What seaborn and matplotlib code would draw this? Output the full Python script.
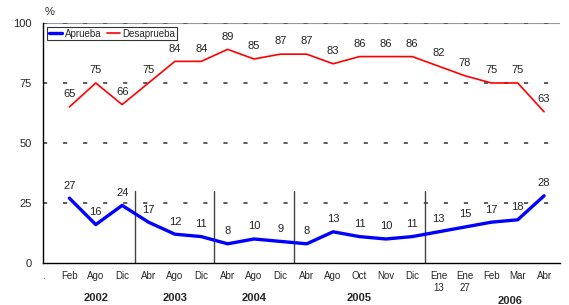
import matplotlib
matplotlib.use("Agg")
import matplotlib.pyplot as plt
import seaborn as sns
import pandas as pd
import numpy as np
from matplotlib.lines import Line2D

months = ["Feb", "Ago", "Dic", "Abr", "Ago", "Dic", "Abr", "Ago", "Dic",
          "Abr", "Ago", "Oct", "Nov", "Dic", "Ene\n13", "Ene\n27", "Feb", "Mar", "Abr"]
aprueba = [27, 16, 24, 17, 12, 11, 8, 10, 9, 8, 13, 11, 10, 11, 13, 15, 17, 18, 28]
desaprueba = [65, 75, 66, 75, 84, 84, 89, 85, 87, 87, 83, 86, 86, 86, 82, 78, 75, 75, 63]
years = ["2002", "2003", "2004", "2005", "2006"]
year_groups = [3, 3, 3, 5, 5]  # months per year

sns.set_theme(style="white")
plt.rcParams['font.family'] = ['Liberation Sans', 'DejaVu Sans']

pos = np.arange(1, len(months) + 1)
df = pd.DataFrame({
    "pos": np.concatenate([pos, pos]),
    "valor": aprueba + desaprueba,
    "serie": ["Aprueba"] * len(pos) + ["Desaprueba"] * len(pos),
})

fig = plt.figure(figsize=(5.69, 3.05), dpi=100)
ax = fig.add_axes([0.0756, 0.1377, 0.9084, 0.787])

ax.axhline(100, color="#999999", lw=0.8, zorder=1)
for y in [25, 50, 75, 100]:
    ax.axhline(y, color="#505050", lw=1.3, ls=(0, (2.3, 8.8)), zorder=1)

sns.lineplot(data=df[df.serie == "Desaprueba"], x="pos", y="valor", color="#ff0000",
             lw=1.2, ax=ax, legend=False, zorder=3)
sns.lineplot(data=df[df.serie == "Aprueba"], x="pos", y="valor", color="#0000ff",
             lw=2.4, ax=ax, legend=False, zorder=3)

for x, v in zip(pos, desaprueba):
    ax.text(x, v + 3.2, str(v), ha="center", va="bottom", fontsize=8, color="#222222")
for x, v in zip(pos, aprueba):
    ax.text(x, v + 3.2, str(v), ha="center", va="bottom", fontsize=8, color="#222222")

# year separators
bounds = np.cumsum(year_groups)[:-1]
for b in bounds:
    ax.plot([b + 0.5, b + 0.5], [0, 30], color="#444444", lw=1.0, zorder=2)

ax.set_xlim(0, 19.6)
ax.set_ylim(0, 100)
ax.set_xticks([0] + list(pos))
ax.set_xticklabels(["."] + months, fontsize=7)
ax.set_yticks([0, 25, 50, 75, 100])
ax.set_yticklabels(["0", "25", "50", "75", "100"], fontsize=8)
ax.tick_params(axis="both", length=0, pad=6)
ax.tick_params(axis="y", pad=8)
ax.set_xlabel("")
ax.set_ylabel("")

for s in ["top", "right"]:
    ax.spines[s].set_visible(False)
for s in ["left", "bottom"]:
    ax.spines[s].set_color("#000000")
    ax.spines[s].set_linewidth(1.0)

# year labels
start = 1
ycoords = [-0.145, -0.145, -0.145, -0.145, -0.16]
for i, (yr, n) in enumerate(zip(years, year_groups)):
    center = start + (n - 1) / 2
    if yr == "2006":
        center += 0.7
    ax.text(center, ycoords[i], yr, transform=ax.get_xaxis_transform(),
            ha="center", va="center", fontsize=8, fontweight="bold")
    start += n

fig.text(50 / 569, 1 - 12 / 305, "%", ha="center", va="center", fontsize=8)

handles = [Line2D([], [], color="#0000ff", lw=2.4), Line2D([], [], color="#ff0000", lw=1.2)]
leg = ax.legend(handles, ["Aprueba", "Desaprueba"], loc="upper left", ncol=2,
                bbox_to_anchor=(0.008, 0.985), fontsize=7, frameon=True, fancybox=False,
                handlelength=1.3, handletextpad=0.3, columnspacing=0.6,
                borderpad=0.2, borderaxespad=0.0)
leg.get_frame().set_edgecolor("#000000")
leg.get_frame().set_linewidth(0.8)

fig.savefig("out.png", dpi=100)
